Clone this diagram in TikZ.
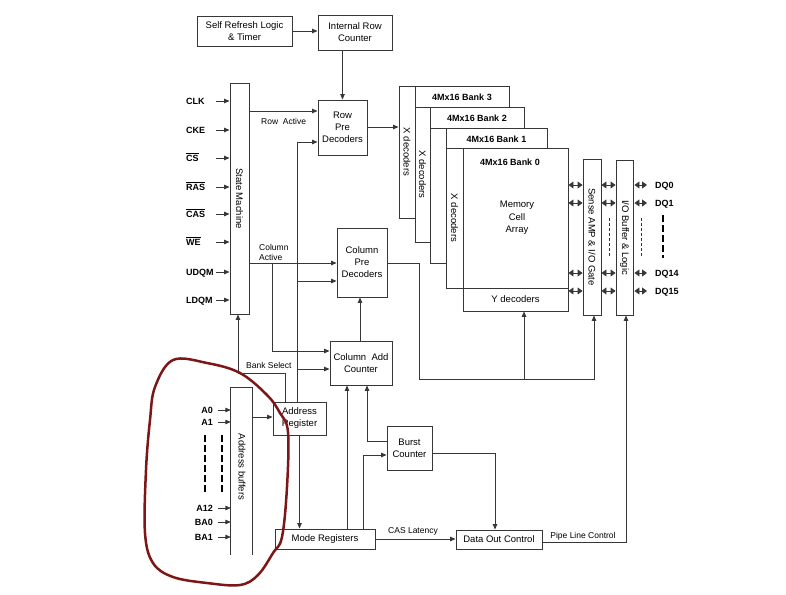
\documentclass[tikz,border=0pt]{standalone}
\usepackage{fontspec}
\setmainfont{Liberation Sans}
\usetikzlibrary{arrows.meta}
\definecolor{lc}{RGB}{55,55,55}
\definecolor{redpen}{RGB}{125,22,22}
\begin{document}
\begin{tikzpicture}[x=1pt,y=-1pt,
  box/.style={draw=lc, fill=white, line width=0.9pt, align=center, inner sep=0pt, font=\fontsize{9.5}{12}\selectfont},
  txt/.style={align=center, inner sep=0pt, font=\fontsize{9.5}{12.5}\selectfont},
  vlab/.style={rotate=-90, inner sep=0pt, font=\fontsize{9.5}{11}\selectfont},
  blab/.style={inner sep=0pt, font=\bfseries\fontsize{9}{10}\selectfont},
  lbl/.style={inner sep=0pt, font=\fontsize{8.5}{10}\selectfont},
  pin/.style={inner sep=0pt, font=\bfseries\fontsize{9}{10}\selectfont, text height=6.5pt, text depth=0pt},
  arr/.style={draw=lc, line width=0.9pt, -{Triangle[length=5.5pt,width=4.5pt]}},
  darr/.style={draw=lc, line width=0.9pt, {Triangle[length=5pt,width=7pt]}-{Triangle[length=5pt,width=7pt]}},
  thin dash/.style={draw=lc, line width=0.6pt, dash pattern=on 3pt off 2pt},
  thick dash/.style={draw=black, line width=2pt, dash pattern=on 7pt off 3pt}
]
\useasboundingbox (0,0) rectangle (786,594);

% ---------- blocks ----------
\node[box, minimum width=95pt, minimum height=30pt] (selfref) at (244.5,31) {Self Refresh Logic\\\& Timer};
\node[box, minimum width=74pt, minimum height=35pt] (introw) at (355,32.5) {Internal Row\\Counter};
\node[box, minimum width=19pt, minimum height=231pt] (statem) at (239.5,198.5) {};
\node[vlab] (smlab) at (statem) {State Machine};
\node[box, minimum width=49pt, minimum height=55pt] (rowpre) at (342.5,127.5) {Row\\Pre\\Decoders};
\node[box, minimum width=50pt, minimum height=69pt] (colpre) at (362,262.5) {Column\\Pre\\Decoders};
\node[box, minimum width=62pt, minimum height=44pt] (coladd) at (361,363) {Column~ Add\\Counter};
\node[box, minimum width=53pt, minimum height=33pt] (addreg) at (299.5,418.5) {Address\\Register};
\node[box, minimum width=45pt, minimum height=44pt] (burst) at (409.5,448) {Burst\\Counter};
\node[box, minimum width=100pt, minimum height=20pt] (mode) at (325,539) {Mode Registers};
\node[box, minimum width=86pt, minimum height=19pt] (dataout) at (499,539.5) {Data Out Control};
\node[box, minimum width=18pt, minimum height=156pt] (sense) at (592,237) {};
\node[vlab] (senselab) at (sense) {Sense AMP \& I/O Gate};
\node[box, minimum width=17pt, minimum height=155pt] (iobuf) at (624.5,237.5) {};
\node[vlab] (iolab) at (iobuf) {I/O Buffer \& Logic};

% address buffers (open at the bottom)
\node[minimum width=21pt, minimum height=167pt, inner sep=0pt] (addbuf) at (241.5,471.5) {};
\draw[lc, line width=0.9pt] (addbuf.south west) -- (addbuf.north west) -- (addbuf.north east) -- (addbuf.south east);
\node[vlab] (ablab) at (242,467) {Address buffers};

% ---------- banks ----------
\node[box, minimum width=110pt, minimum height=132pt] (bank3) at (454,152) {};
\node[box, minimum width=16pt, minimum height=132pt] (xdec3) at (407,152) {};
\node[vlab] (xl3) at (xdec3) {X decoders};
\node[blab] (bl3) at (462,97) {4Mx16 Bank 3};

\node[box, minimum width=109pt, minimum height=135pt] (bank2) at (469.5,174.5) {};
\node[box, minimum width=15pt, minimum height=135pt] (xdec2) at (422.5,174.5) {};
\node[vlab] (xl2) at (xdec2) {X decoders};
\node[blab] (bl2) at (477,118) {4Mx16 Bank 2};

\node[box, minimum width=117pt, minimum height=135pt] (bank1) at (488.5,195.5) {};
\node[box, minimum width=16pt, minimum height=135pt] (xdec1) at (438,195.5) {};
\node[blab] (bl1) at (496.5,139) {4Mx16 Bank 1};

\node[box, minimum width=105pt, minimum height=163pt] (arr0) at (515.5,229.5) {};
\node[box, minimum width=17pt, minimum height=140pt] (xdec0) at (454.5,218) {};
\node[vlab] (xl0) at (xdec0) {X decoders};
\node[box, minimum width=105pt, minimum height=23pt] (ydec) at (515.5,299.5) {Y decoders};
\node[blab] (bl0) at (510,162) {4Mx16 Bank 0};
\node[txt] (mca) at (517,218) {Memory\\Cell\\Array};

% ---------- state machine inputs ----------
\foreach \y/\n/\t in {101/clk/CLK, 130/cke/CKE, 158/cs/{$\overline{\mbox{CS}}$}, 187/ras/{$\overline{\mbox{RAS}}$},
  214/cas/{$\overline{\mbox{CAS}}$}, 242/we/{$\overline{\mbox{WE}}$}, 272/udqm/UDQM, 300/ldqm/LDQM}{
  \node[pin, anchor=west, text width=30pt, align=left] (\n) at (186,\y) {\t};
  \draw[arr] (\n.east) -- (\n.east -| statem.west);
}

% ---------- address inputs ----------
\foreach \y/\n/\t in {410/a0/A0, 422/a1/A1, 508/a12/A12, 522/ba0/BA0, 537/ba1/BA1}{
  \node[pin, anchor=east, text width=24pt, align=right] (\n) at (213,\y) {\t};
  \draw[arr] ([xshift=5pt]\n.east) -- (\n.east -| addbuf.west);
}
\draw[thick dash] (205,435) -- (205,495);
\draw[thick dash] (222,435) -- (222,495);

% ---------- DQ lines ----------
\foreach \y/\n in {185/0, 203/1, 273/14, 291/15}{
  \node[pin, anchor=west] (dq\n) at (655,\y) {DQ\n};
  \draw[darr] (arr0.east |- dq\n) -- (sense.west |- dq\n);
  \draw[darr] (sense.east |- dq\n) -- (iobuf.west |- dq\n);
  \draw[darr] ([xshift=1pt]iobuf.east |- dq\n) -- ([xshift=-8pt]dq\n.west);
}
\draw[thin dash] (609,218) -- (609,257);
\draw[thin dash] (641,218) -- (641,257);
\draw[thick dash] (663,215) -- (663,258);

% ---------- connectors ----------
\draw[arr] (selfref.east) -- (selfref.east -| introw.west);
\draw[arr] (rowpre.north |- introw.south) -- (rowpre.north);
\draw[arr] (statem.east |- 0,111) -- (rowpre.west |- 0,111);
\node[lbl, anchor=west] (rowact) at (261,121) {Row~ Active};
\draw[arr] (rowpre.east |- 0,127) -- (xdec3.west |- 0,127);

\draw[arr] (statem.east |- 0,263) -- (colpre.west |- 0,263);
\node[lbl, anchor=west, align=left] (colact) at (259,252) {Column\\Active};
\coordinate (cab) at (272,263);
\draw[arr] (cab) |- (coladd.west |- 0,351);

\draw[arr] (addreg.north -| 297,0) |- (rowpre.west |- 0,142);
\coordinate (j1) at (297,281);
\draw[arr] (j1) -- (colpre.west |- j1);
\coordinate (j2) at (297,369);
\draw[arr] (j2) -- (coladd.west |- j2);

\draw[arr] (addreg.north -| 285,0) |- (238,373) -- (statem.south -| 238,0);
\node[lbl, anchor=west] (banksel) at (246,365) {Bank Select};

\draw[arr] (addbuf.east |- 0,417) -- (addreg.west |- 0,417);
\draw[arr] (addreg.south) -- (addreg.south |- mode.north);

\draw[arr] (coladd.north -| 360,0) -- (colpre.south -| 360,0);
\draw[arr] (mode.north -| 347,0) -- (coladd.south -| 347,0);
\draw[arr] (mode.north -| 363,0) |- (burst.west |- 0,455);
\draw[arr] (burst.west |- 0,441) -| (coladd.south -| 367,0);
\draw[arr] (burst.east |- 0,453) -| (dataout.north -| 495,0);

\draw[arr] (mode.east |- 0,539) -- (dataout.west |- 0,539);
\node[lbl] (caslat) at (413,531) {CAS Latency};
\draw[arr] (dataout.east |- 0,542) -| (iobuf.south -| 626,0);
\node[lbl] (pipe) at (583,536) {Pipe Line Control};

\draw[arr] (colpre.east |- 0,263) -- (419,263) -- (419,379) -- (594,379) -- (sense.south -| 594,0);
\coordinate (j3) at (524,379);
\draw[arr] (j3) -- (ydec.south -| j3);

% ---------- hand-drawn red loop ----------
\draw[redpen, line width=2.5pt, line join=round] plot[smooth cycle, tension=0.6] coordinates {
  (173,360) (207,363) (240,373) (267,395) (280,413) (288,432) (287,487) (282,537)
  (273,553) (258,575) (240,585) (207,583) (173,577) (153,563) (145,533) (146,470)
  (150,420) (155,387) };
\end{tikzpicture}
\end{document}
